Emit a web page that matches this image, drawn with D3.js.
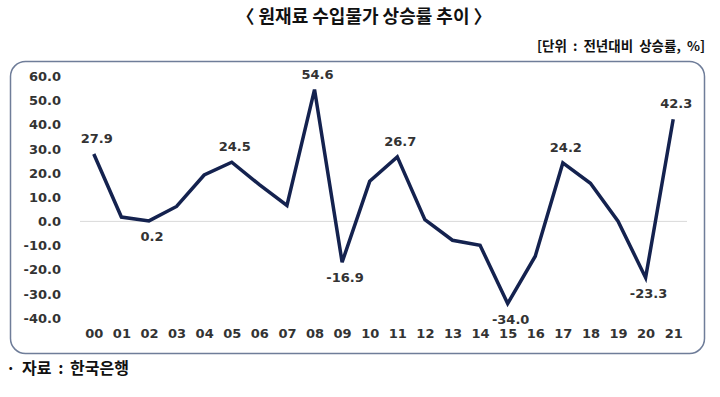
<!DOCTYPE html>
<meta charset="utf-8">
<script src="https://d3js.org/d3.v7.min.js"></script>
<style>
body { margin: 0; background: #fff; }
text { font-family: "DejaVu Sans", Verdana, sans-serif; font-weight: bold; fill: #333; }
.kr { font-family: "Noto Sans CJK KR", sans-serif; fill: #111; }
</style>
<body>
<div id="chart"></div>
<script>
// years and import price change of raw materials (% yoy)
var years = ["00","01","02","03","04","05","06","07","08","09","10",
             "11","12","13","14","15","16","17","18","19","20","21"];
var values = [27.9, 1.8, 0.2, 6.2, 19.2, 24.5, 15.2, 6.6, 54.6, -16.9, 16.6,
              26.7, 0.7, -7.8, -9.9, -34.0, -14.4, 24.2, 15.8, 0.1, -23.3, 42.3];
var yTicks = [60, 50, 40, 30, 20, 10, 0, -10, -20, -30, -40];
// which points get a value label, and where
var labelled = {"00": "up", "02": "down", "05": "up", "08": "up", "09": "down",
                "11": "up", "15": "down", "17": "up", "20": "down", "21": "up"};

var fmt = function(v) { return v.toFixed(1); };  // plain hyphen minus like the original

var width = 720, height = 397;
var svg = d3.select("#chart").append("svg")
    .attr("width", width)
    .attr("height", height);

// titles
svg.append("text").attr("class", "kr")
    .attr("x", 364).attr("y", 23)
    .attr("text-anchor", "middle")
    .style("font-size", "18px")
    .text("〈 원재료 수입물가 상승률 추이 〉");

svg.append("text").attr("class", "kr")
    .attr("x", 705).attr("y", 51)
    .attr("text-anchor", "end")
    .style("font-size", "13.5px")
    .style("word-spacing", "3px")
    .text("[단위 : 전년대비 상승률, %]");

svg.append("text").attr("class", "kr")
    .attr("x", 6).attr("y", 374)
    .style("font-size", "16px")
    .style("word-spacing", "3px")
    .text("· 자료 : 한국은행");

// frame
svg.append("rect")
    .attr("x", 10.5).attr("y", 61.5)
    .attr("width", 694).attr("height", 292)
    .attr("rx", 15).attr("ry", 15)
    .attr("fill", "none")
    .attr("stroke", "#6f7d99")
    .attr("stroke-width", 1.5);

var x = d3.scalePoint().domain(years).range([80, 687]).padding(0.5);
var y = d3.scaleLinear().domain([-40, 60]).range([318, 76.5]);

// zero line
svg.append("line")
    .attr("x1", 80).attr("x2", 687)
    .attr("y1", y(0)).attr("y2", y(0))
    .attr("stroke", "#d9d9d9")
    .attr("stroke-width", 1);

// y axis labels
var yAxis = svg.append("g")
    .attr("transform", "translate(61,0)")
    .call(d3.axisLeft(y).tickValues(yTicks).tickSize(0).tickPadding(0)
        .tickFormat(fmt));
yAxis.select(".domain").remove();
yAxis.selectAll("text")
    .style("font-size", "13px")
    .style("font-family", "DejaVu Sans, Verdana, sans-serif")
    .attr("fill", "#333");

// x axis labels
var xAxis = svg.append("g")
    .attr("transform", "translate(0,326)")
    .call(d3.axisBottom(x).tickSize(0).tickPadding(3));
xAxis.select(".domain").remove();
xAxis.selectAll("text")
    .style("font-size", "13px")
    .style("font-family", "DejaVu Sans, Verdana, sans-serif")
    .attr("fill", "#333");

// line
var line = d3.line()
    .x(function(d, i) { return x(years[i]); })
    .y(function(d) { return y(d); });

svg.append("path")
    .datum(values)
    .attr("d", line)
    .attr("fill", "none")
    .attr("stroke", "#14224f")
    .attr("stroke-width", 3.5)
    .attr("stroke-linejoin", "miter");

// value labels
svg.append("g")
    .selectAll("text")
    .data(years.filter(function(yr) { return labelled[yr]; }))
    .enter().append("text")
    .attr("x", function(yr) { return x(yr) + 3; })
    .attr("y", function(yr) {
        var v = values[years.indexOf(yr)];
        return labelled[yr] == "up" ? y(v) - 11 : y(v) + 20;
    })
    .attr("text-anchor", "middle")
    .style("font-size", "13px")
    .text(function(yr) { return fmt(values[years.indexOf(yr)]); });
</script>
</body>
